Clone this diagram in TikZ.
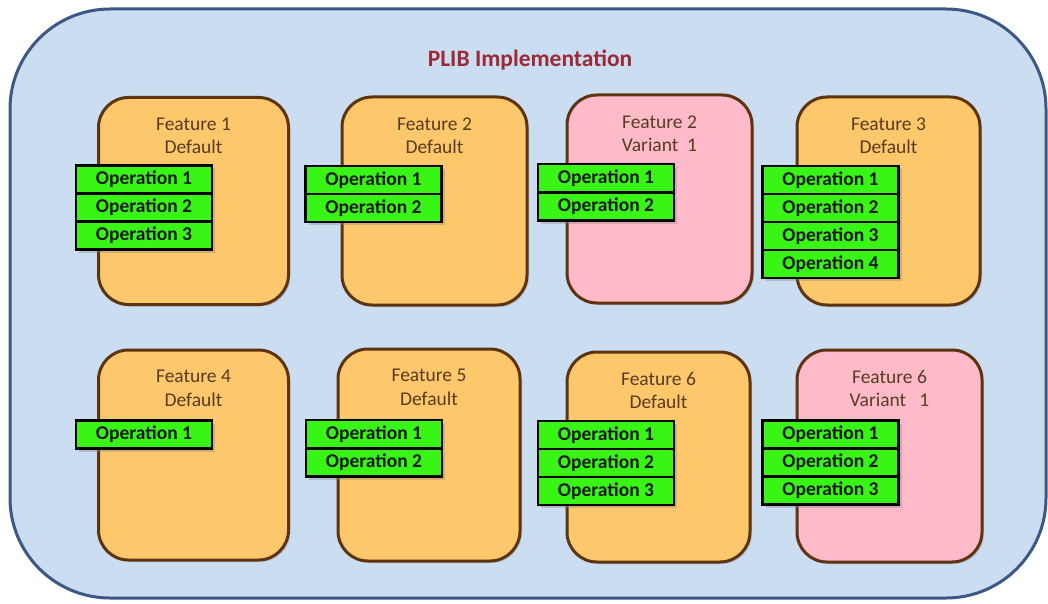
\documentclass[tikz,border=0pt]{standalone}
\usepackage{fontspec}
\setmainfont{Carlito}
\usetikzlibrary{shadows}

\definecolor{panelfill}{HTML}{CADDF1}
\definecolor{paneledge}{HTML}{3B5887}
\definecolor{featfill}{HTML}{FDC86C}
\definecolor{varfill}{HTML}{FFBACA}
\definecolor{featedge}{HTML}{5E3410}
\definecolor{feattext}{HTML}{5A3A20}
\definecolor{opfill}{HTML}{38F515}
\definecolor{titlered}{HTML}{9C2A36}

\tikzset{
  panel/.style={draw=paneledge, line width=3pt, fill=panelfill, rounded corners=100pt},
  featbox/.style={draw=featedge, line width=3pt, fill=featfill, rounded corners=30pt,
    drop shadow={shadow xshift=2pt, shadow yshift=-2pt, opacity=0.25}},
  varbox/.style={featbox, fill=varfill},
  flabel/.style={text=feattext, align=center, font=\fontsize{19.5}{23.5}\selectfont},
  opbox/.style={draw=black, line width=2.5pt, fill=opfill, minimum width=136pt, minimum height=28pt,
    inner sep=0pt, text=black!90, font=\bfseries\fontsize{19.5}{20}\selectfont,
    drop shadow={shadow xshift=3pt, shadow yshift=-3pt, opacity=0.35}},
  titletext/.style={text=titlered, font=\bfseries\fontsize{23.5}{26}\selectfont}
}

\begin{document}
\begin{tikzpicture}[x=1pt, y=-1pt]
\useasboundingbox (0,0) rectangle (1048,604);

% outer panel
\draw[panel] (10,9) rectangle (1046,598);
\node[titletext] (title) at (530,60) {PLIB Implementation};

% feature containers, top row
\node[featbox, minimum width=190pt, minimum height=207pt] (f1) at (193.5,201) {};
\node[featbox, minimum width=185pt, minimum height=208pt] (f2) at (434.5,201) {};
\node[varbox, minimum width=185pt, minimum height=208pt] (f2v) at (659.5,199) {};
\node[featbox, minimum width=183pt, minimum height=208pt] (f3) at (888.5,201) {};

% feature containers, bottom row
\node[featbox, minimum width=190pt, minimum height=210pt] (f4) at (193.5,455) {};
\node[featbox, minimum width=182pt, minimum height=212pt] (f5) at (429,455) {};
\node[featbox, minimum width=183pt, minimum height=210pt] (f6) at (658.5,457) {};
\node[varbox, minimum width=185pt, minimum height=212pt] (f6v) at (889.5,456) {};

% feature captions
\node[flabel] (f1t) at ([yshift=-40pt]f1.north) {Feature 1\\Default};
\node[flabel] (f2t) at ([yshift=-40pt]f2.north) {Feature 2\\Default};
\node[flabel] (f2vt) at ([yshift=-40pt]f2v.north) {Feature 2\\Variant~~1};
\node[flabel] (f3t) at ([yshift=-40pt]f3.north) {Feature 3\\Default};
\node[flabel] (f4t) at ([yshift=-40pt]f4.north) {Feature 4\\Default};
\node[flabel] (f5t) at ([yshift=-40pt]f5.north) {Feature 5\\Default};
\node[flabel] (f6t) at ([yshift=-40pt]f6.north) {Feature 6\\Default};
\node[flabel] (f6vt) at ([yshift=-40pt]f6v.north) {Feature 6\\Variant~~~1};

% operations, top row
\node[opbox] (f1a) at (144,179.5) {Operation 1};
\node[opbox] (f1b) at (144,207.5) {Operation 2};
\node[opbox] (f1c) at (144,235.5) {Operation 3};

\node[opbox] (f2a) at (373.5,180) {Operation 1};
\node[opbox] (f2b) at (373.5,208) {Operation 2};

\node[opbox] (f2va) at (606,178) {Operation 1};
\node[opbox] (f2vb) at (606,206.5) {Operation 2};

\node[opbox] (f3a) at (830.5,180) {Operation 1};
\node[opbox] (f3b) at (830.5,208) {Operation 2};
\node[opbox] (f3c) at (830.5,236) {Operation 3};
\node[opbox] (f3d) at (830.5,264) {Operation 4};

% operations, bottom row
\node[opbox] (f4a) at (144,434.5) {Operation 1};

\node[opbox] (f5a) at (374,434) {Operation 1};
\node[opbox] (f5b) at (374,462.5) {Operation 2};

\node[opbox] (f6a) at (606,435) {Operation 1};
\node[opbox] (f6b) at (606,463) {Operation 2};
\node[opbox] (f6c) at (606,491) {Operation 3};

\node[opbox] (f6va) at (830.5,434.5) {Operation 1};
\node[opbox] (f6vb) at (830.5,462.5) {Operation 2};
\node[opbox] (f6vc) at (830.5,490.5) {Operation 3};
\end{tikzpicture}
\end{document}
